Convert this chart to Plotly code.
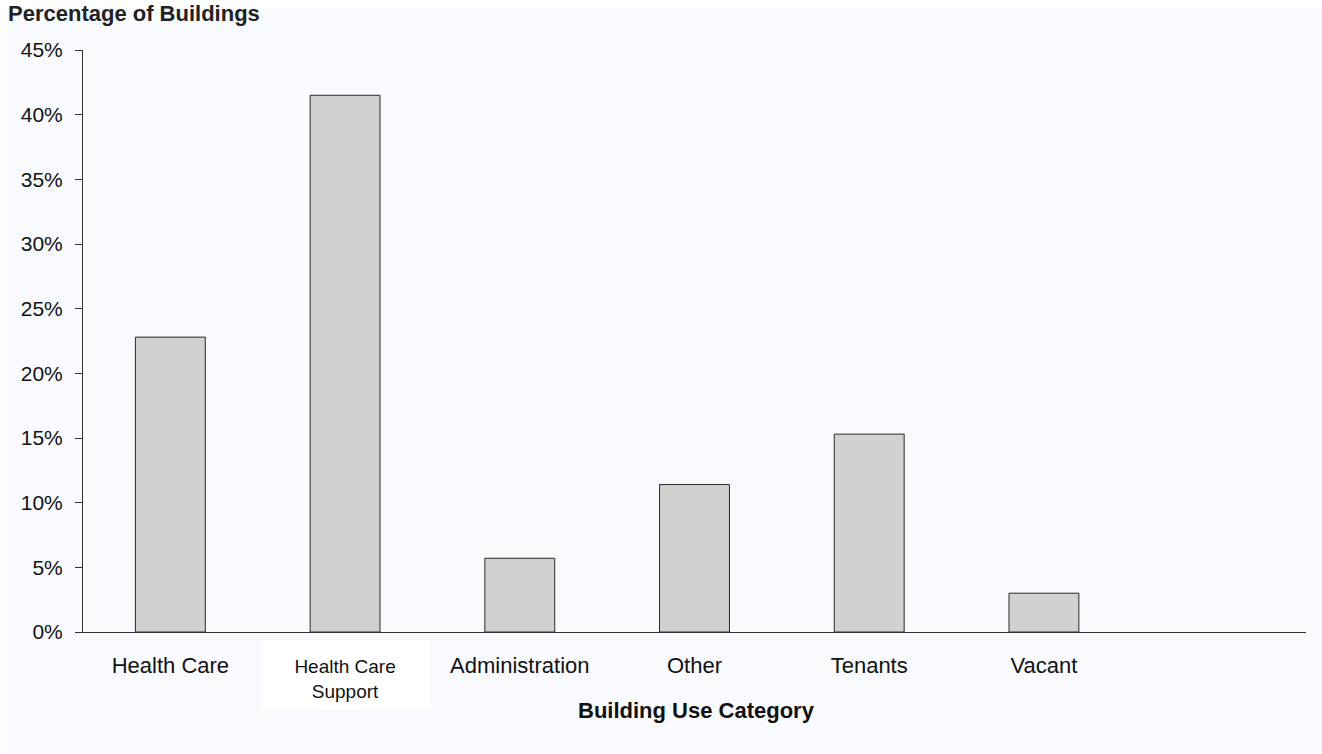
import plotly.graph_objects as go

categories = ["Health Care", "Health Care Support", "Administration", "Other", "Tenants", "Vacant", " "]
values = [22.8, 41.5, 5.7, 11.4, 15.3, 3.0, None]
tick_labels = [
    "<span style='font-size:22px'>Health Care</span>",
    "Health Care<br>Support",
    "<span style='font-size:22px'>Administration</span>",
    "<span style='font-size:22px'>Other</span>",
    "<span style='font-size:22px'>Tenants</span>",
    "<span style='font-size:22px'>Vacant</span>",
    "",
]
y_ticks = [0, 5, 10, 15, 20, 25, 30, 35, 40, 45]

W, H = 1322, 754
L, R, T, B = 83, 16, 50, 122
pw, ph = W - L - R, H - T - B


def px_x(x):
    return (x - L) / pw


def px_y(y):
    return (H - B - y) / ph


BG = "#F9FAFE"
FONT = "Liberation Sans, Arial, sans-serif"

fig = go.Figure(
    go.Bar(
        x=categories,
        y=values,
        width=0.4,
        marker=dict(color="#D3D1CF", line=dict(color="#2a2a2a", width=1)),
        hoverinfo="skip",
    )
)

fig.update_layout(
    width=W,
    height=H,
    margin=dict(l=L, r=R, t=T, b=B),
    paper_bgcolor="white",
    plot_bgcolor="rgba(0,0,0,0)",
    showlegend=False,
    font=dict(family=FONT, color="#111111"),
    shapes=[
        dict(type="rect", xref="paper", yref="paper", layer="below",
             x0=px_x(7), x1=px_x(1330), y0=px_y(752), y1=px_y(8),
             fillcolor=BG, line=dict(width=0)),
        dict(type="rect", xref="paper", yref="paper", layer="below",
             x0=px_x(261), x1=px_x(430), y0=px_y(709), y1=px_y(640),
             fillcolor="white", line=dict(width=0)),
    ],
    annotations=[
        dict(text="<b>Percentage of Buildings</b>", xref="paper", yref="paper",
             x=px_x(6), y=px_y(0), xanchor="left", yanchor="top", yshift=1,
             showarrow=False, font=dict(size=22, family=FONT, color="#222222")),
        dict(text="<b>Building Use Category</b>", xref="paper", yref="paper",
             x=px_x(696), y=px_y(710), xanchor="center", yanchor="middle",
             showarrow=False, font=dict(size=22, family=FONT, color="#111111")),
    ],
)

fig.update_xaxes(
    type="category",
    categoryorder="array",
    categoryarray=categories,
    range=[-0.5, 6.5],
    tickvals=categories,
    ticktext=tick_labels,
    showline=True,
    linecolor="#333333",
    linewidth=1,
    ticks="",
    showgrid=False,
    tickfont=dict(size=19, family=FONT, color="#111111"),
    ticklabelstandoff=17,
)

fig.update_yaxes(
    range=[0, 45],
    tickvals=y_ticks,
    ticktext=[f"{v}%" for v in y_ticks],
    showline=True,
    linecolor="#333333",
    linewidth=1,
    ticks="outside",
    ticklen=7,
    tickcolor="#333333",
    showgrid=False,
    zeroline=False,
    tickfont=dict(size=21, family=FONT, color="#111111"),
    ticklabelstandoff=8,
)

fig.write_html("out.html")
